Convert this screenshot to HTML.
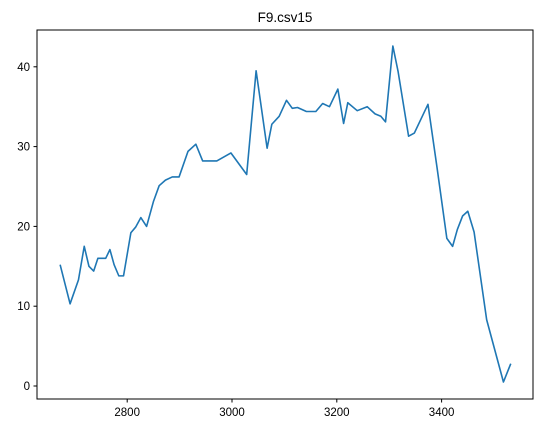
<!DOCTYPE html>
<html><head><meta charset="utf-8"><style>
body{margin:0;background:#fff;}
svg text{font-family:"Liberation Sans","DejaVu Sans",sans-serif;fill:#000;}
</style></head><body>
<svg id="chart" width="543" height="433">
<text x="285" y="22" font-size="13.5" text-anchor="middle">F9.csv15</text>
<g id="grid"></g>
<polyline id="line" fill="none" stroke="#1f77b4" stroke-width="1.6" stroke-linejoin="round"></polyline>
<rect x="37" y="30" width="496" height="369" fill="none" stroke="#000" stroke-width="1"></rect>
</svg>
<script>
const xValues=[2672,2691,2707,2718,2727,2736,2744,2759,2767,2775,2784,2793,2807,2816,2826,2837,2850,2861,2873,2886,2899,2916,2931,2944,2971,2998,3028,3046,3067,3076,3090,3104,3115,3125,3142,3160,3173,3186,3202,3213,3221,3239,3258,3273,3284,3293,3307,3317,3337,3348,3374,3391,3410,3421,3430,3440,3450,3462,3486,3518,3532];
const yValues=[15.2,10.3,13.3,17.5,15.0,14.4,16.0,16.0,17.1,15.2,13.8,13.8,19.2,19.9,21.1,20.0,23.1,25.1,25.8,26.2,26.2,29.4,30.3,28.2,28.2,29.2,26.5,39.5,29.8,32.8,33.8,35.8,34.8,34.9,34.4,34.4,35.4,35.0,37.2,32.9,35.5,34.5,35.0,34.1,33.8,33.1,42.6,39.4,31.3,31.7,35.3,27.5,18.5,17.5,19.6,21.3,21.9,19.3,8.3,0.5,2.8];
const xTicks=[2800,3000,3200,3400];
const yTicks=[0,10,20,30,40];
const sx=v=>232+(v-3000)*0.524;
const sy=v=>386-v*7.98;
const ns="http://www.w3.org/2000/svg";
const g=document.getElementById('grid');
xTicks.forEach(t=>{
  const l=document.createElementNS(ns,'line');
  l.setAttribute('x1',sx(t));l.setAttribute('x2',sx(t));l.setAttribute('y1',399);l.setAttribute('y2',402.5);l.setAttribute('stroke','#000');
  
  
  g.appendChild(l);
  const tx=document.createElementNS(ns,'text');
  tx.setAttribute('x',sx(t));tx.setAttribute('y',416);tx.setAttribute('font-size','11.5');tx.setAttribute('text-anchor','middle');
  tx.textContent=t;
  
  
  g.appendChild(tx);
});
yTicks.forEach(t=>{
  const l=document.createElementNS(ns,'line');
  l.setAttribute('x1',33.5);l.setAttribute('x2',37);l.setAttribute('y1',sy(t));l.setAttribute('y2',sy(t));l.setAttribute('stroke','#000');
  
  
  g.appendChild(l);
  const tx=document.createElementNS(ns,'text');
  tx.setAttribute('x',30);tx.setAttribute('y',sy(t)+4);tx.setAttribute('font-size','11.5');tx.setAttribute('text-anchor','end');
  tx.textContent=t;
  
  
  g.appendChild(tx);
});
document.getElementById('line').setAttribute('points',xValues.map((x,i)=>sx(x)+','+sy(yValues[i])).join(' '));
</script>
</body></html>
